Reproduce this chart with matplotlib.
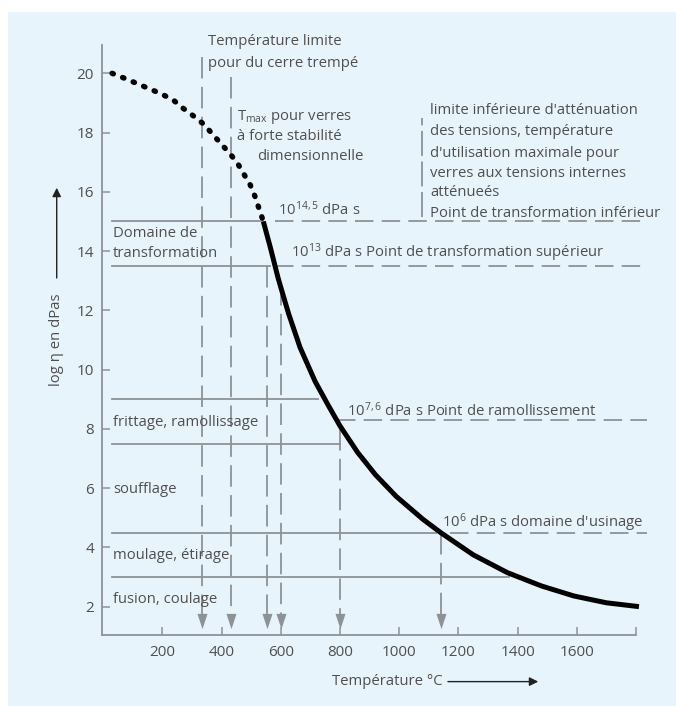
import matplotlib
matplotlib.use('Agg')
import matplotlib.pyplot as plt
from matplotlib.patches import Rectangle

plt.rcParams['font.family'] = ['Open Sans', 'DejaVu Sans']
plt.rcParams['mathtext.fontset'] = 'custom'
plt.rcParams['mathtext.rm'] = 'Open Sans'
plt.rcParams['mathtext.it'] = 'Open Sans'
plt.rcParams['lines.scale_dashes'] = False

# ---------------- data ----------------
# viscosity curve (log eta in dPa s) vs temperature (°C)
dotted_T = [30, 80, 120, 160, 200, 240, 270, 305, 340, 370, 400, 430, 457, 497, 513, 530, 541]
dotted_v = [20.0, 19.8, 19.63, 19.46, 19.29, 19.07, 18.82, 18.56, 18.28, 17.94, 17.6, 17.27, 16.91,
            16.23, 15.84, 15.33, 15.0]
solid_T = [541, 564, 592, 626, 665, 716, 760, 800, 860, 920, 990, 1080, 1140, 1250, 1365, 1480, 1590, 1700, 1810]
solid_v = [15.0, 14.15, 13.05, 11.9, 10.75, 9.6, 8.8, 8.1, 7.2, 6.45, 5.72, 4.95, 4.5, 3.75, 3.15, 2.7,
           2.36, 2.13, 2.0]

# horizontal reference levels
hl_levels = [15, 13.5, 9, 8.3, 7.5, 4.5, 3]
hl_start = 30
hl_solid_end = [541, 565, 725, None, 800, 1125, 1370]
hl_dash_start = [580, 580, None, 790, None, 1170, None]
hl_dash_end = 1837

# vertical marked temperatures (T, top of dashed line)
vl_T = [333, 432, 553, 600, 800, 1140]
vl_top = [20.56, 19.89, 13.5, 12.9, 8.0, 4.5]
arrow_v = 1.53
bar_T = 1076
bar_range = (15.15, 18.5)

x_ticks = [200, 400, 600, 800, 1000, 1200, 1400, 1600, 1800]
x_ticklabels = ['200', '400', '600', '800', '1000', '1200', '1400', '1600', '']
y_ticks = [2, 4, 6, 8, 10, 12, 14, 16, 18, 20]

texts = [
    ("Température limite", 355, 21.07),
    ("pour du cerre trempé", 355, 20.34),
    ("T$_{\\mathrm{max}}$ pour verres", 451, 18.54),
    ("à forte stabilité", 451, 17.86),
    ("dimensionnelle", 519, 17.19),
    ("limite inférieure d'atténuation", 1104, 18.76),
    ("des tensions, température", 1104, 18.03),
    ("d'utilisation maximale pour", 1104, 17.30),
    ("verres aux tensions internes", 1104, 16.63),
    ("atténueés", 1104, 15.97),
    ("Point de transformation inférieur", 1104, 15.28),
    ("10$^{\\mathrm{14,5}}$ dPa s", 590, 15.39),
    ("10$^{\\mathrm{13}}$ dPa s Point de transformation supérieur", 635, 13.93),
    ("Domaine de", 34, 14.60),
    ("transformation", 34, 13.93),
    ("10$^{\\mathrm{7,6}}$ dPa s Point de ramollissement", 824, 8.61),
    ("frittage, ramollissage", 32, 8.21),
    ("soufflage", 34, 5.94),
    ("10$^{\\mathrm{6}}$ dPa s domaine d'usinage", 1145, 4.82),
    ("moulage, étirage", 34, 3.71),
    ("fusion, coulage", 34, 2.25),
]

# ---------------- style ----------------
W, H = 676, 706
BG = '#e8f4fc'
GRAY = '#8d9296'
TXT = '#4f4f4f'
HDASH = (13.3, 5.9)
VDASH = (15.5, 6.0)
FS = 10.7

fig = plt.figure(figsize=(W / 100, H / 100), dpi=100)
fig.patch.set_facecolor('white')
fig.patches.append(Rectangle((8 / W, 0), 1, (H - 12) / H, transform=fig.transFigure,
                             facecolor=BG, edgecolor='none', zorder=-10))

ax = fig.add_axes([101.7 / W, (H - 635) / H, (636 - 101.7) / W, (635 - 45) / H])
ax.set_zorder(5)
ax.set_facecolor('none')
ax.set_xlim(-5, 1800)
ax.set_ylim(1.043, 20.955)

for s in ['top', 'right']:
    ax.spines[s].set_visible(False)
for s in ['left', 'bottom']:
    ax.spines[s].set_color(GRAY)
    ax.spines[s].set_linewidth(1.3)

ax.set_xticks(x_ticks)
ax.set_xticklabels(x_ticklabels)
ax.set_yticks(y_ticks)
ax.tick_params(direction='in', length=6, width=1.1, color=GRAY, labelcolor=TXT, labelsize=11)
ax.tick_params(axis='x', pad=7.5)
ax.tick_params(axis='y', pad=5.5)

# horizontal lines
for lvl, se, ds in zip(hl_levels, hl_solid_end, hl_dash_start):
    if se is not None:
        ax.plot([hl_start, se], [lvl, lvl], color=GRAY, lw=1.3, clip_on=False, zorder=2)
    if ds is not None:
        ax.plot([ds, hl_dash_end], [lvl, lvl], color=GRAY, lw=1.3, dashes=HDASH,
                clip_on=False, zorder=2)

# vertical dashed lines with arrow heads
arrow_marker = [(-0.66, 1), (0.66, 1), (0, -1)]
for t, top in zip(vl_T, vl_top):
    ax.plot([t, t], [top, arrow_v], color=GRAY, lw=1.3, dashes=VDASH, clip_on=False, zorder=2)
    ax.plot([t], [arrow_v], marker=arrow_marker, ms=11, color=GRAY, mec='none',
            clip_on=False, zorder=3)
ax.plot([bar_T, bar_T], list(bar_range), color=GRAY, lw=1.3, dashes=(18, 4), zorder=2)

# viscosity curve
ax.plot(dotted_T, dotted_v, color='black', lw=3.9, dashes=(1.0, 7.2),
        dash_capstyle='round', zorder=4, clip_on=False)
ax.plot(solid_T, solid_v, color='black', lw=3.6, solid_capstyle='butt',
        solid_joinstyle='round', zorder=4, clip_on=False)

for s, x, y in texts:
    ax.text(x, y, s, fontsize=FS, color=TXT, ha='left', va='center', zorder=5)

# axis labels with arrows
ax.text(0.4305, -0.079, "Température °C", transform=ax.transAxes, fontsize=FS,
        color=TXT, ha='left', va='center')
ax.annotate('', xy=(0.817, -0.079), xytext=(0.648, -0.079), xycoords='axes fraction',
            arrowprops=dict(arrowstyle='-|>', color='#222222', lw=1.0, mutation_scale=13,
                            shrinkA=0, shrinkB=0), annotation_clip=False)
ax.text(-0.0842, 0.50, "log η en dPas", transform=ax.transAxes, fontsize=FS,
        color=TXT, ha='center', va='center', rotation=90)
ax.annotate('', xy=(-0.0842, 0.758), xytext=(-0.0842, 0.605), xycoords='axes fraction',
            arrowprops=dict(arrowstyle='-|>', color='#222222', lw=1.0, mutation_scale=13,
                            shrinkA=0, shrinkB=0), annotation_clip=False)

fig.savefig('out.png', dpi=100, facecolor=fig.get_facecolor())
